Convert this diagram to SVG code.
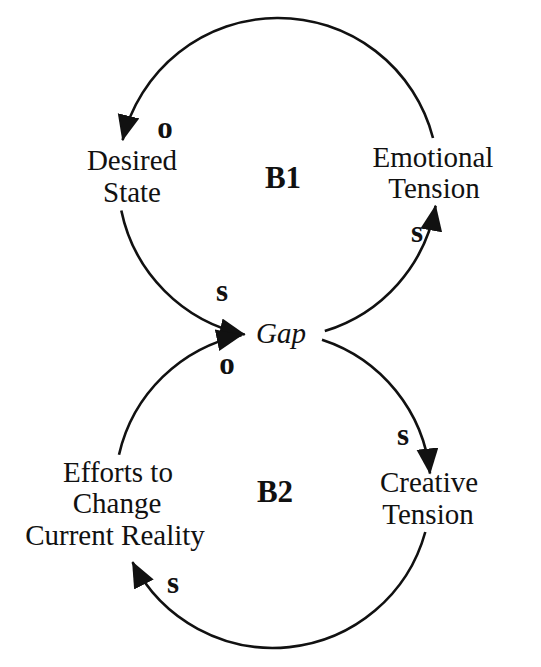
<svg xmlns="http://www.w3.org/2000/svg" width="541" height="667" viewBox="0 0 541 667">
<style>
.lbl{font-family:"Liberation Serif","Times New Roman",serif;font-size:29px;fill:#111;text-anchor:middle}
.pol{font-family:"Liberation Serif","Times New Roman",serif;font-size:31px;font-weight:bold;fill:#111;text-anchor:middle}
.loop{font-family:"Liberation Serif","Times New Roman",serif;font-size:31px;font-weight:bold;fill:#111;text-anchor:middle}
.link{fill:none;stroke:#111;stroke-width:2.6;marker-end:url(#ah)}
</style>
<defs>
<marker id="ah" markerUnits="userSpaceOnUse" markerWidth="28" markerHeight="24" refX="25" refY="11" orient="auto">
<path d="M0,0 L26,11 L0,22 Z" fill="#111"/>
</marker>
</defs>
<rect width="541" height="667" fill="#fff"/>
<g id="connectors">
<path class="link" d="M324.8,331 A160 160 0 0 0 435.6,205.8"/>
<path class="link" d="M433,138 A160 160 0 0 0 122.6,140.1"/>
<path class="link" d="M121.3,210.4 A160 160 0 0 0 244.7,334.5"/>
<path class="link" d="M322,339.7 A158 158 0 0 1 430,473.5"/>
<path class="link" d="M425.3,532 A158 158 0 0 1 132.5,562.2"/>
<path class="link" d="M119,454.7 A158 158 0 0 1 241.5,335.2"/>
</g>
<g id="gap"><text class="lbl" x="281" y="343" font-style="italic" font-size="28">Gap</text></g>
<g id="desired-state"><text class="lbl" x="132" y="170">Desired</text><text class="lbl" x="132" y="202">State</text></g>
<g id="emotional-tension"><text class="lbl" x="433" y="167">Emotional</text><text class="lbl" x="434" y="198">Tension</text></g>
<g id="creative-tension"><text class="lbl" x="429" y="492">Creative</text><text class="lbl" x="428" y="524">Tension</text></g>
<g id="efforts"><text class="lbl" x="118" y="482">Efforts to</text><text class="lbl" x="117" y="513">Change</text><text class="lbl" x="115" y="545">Current Reality</text></g>
<g id="loops"><text class="loop" x="283" y="188">B1</text><text class="loop" x="275" y="502">B2</text></g>
<g id="polarities">
<text class="pol" x="165" y="138">o</text>
<text class="pol" x="417" y="242">s</text>
<text class="pol" x="222" y="301">s</text>
<text class="pol" x="227" y="374">o</text>
<text class="pol" x="403" y="445">s</text>
<text class="pol" x="173" y="593">s</text>
</g>
</svg>
